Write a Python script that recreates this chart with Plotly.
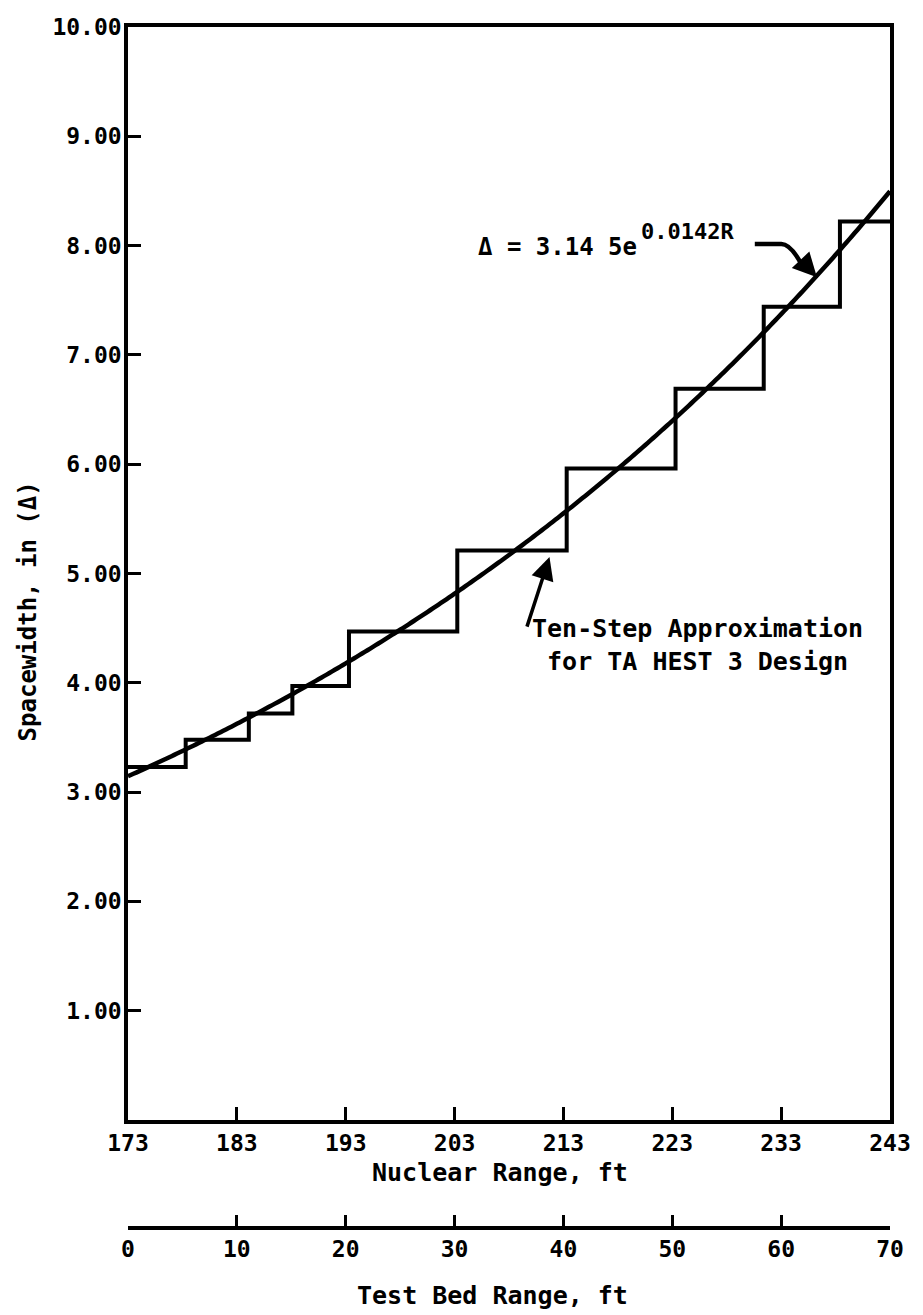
import numpy as np
import plotly.graph_objects as go

# Ten-step approximation: nuclear-range step edges (ft) and spacewidth per step (in)
step_edges = [173.0, 178.3, 184.1, 188.1, 193.3, 203.25, 213.3, 223.3, 231.4, 238.4, 243.0]
step_widths = [3.23, 3.48, 3.72, 3.97, 4.47, 5.21, 5.96, 6.69, 7.44, 8.22]

# Exponential spacing law, R = test bed range (ft)
fit_a = 3.145
fit_k = 0.0142
test_bed_r = np.linspace(0, 70, 281)
fit_delta = fit_a * np.exp(fit_k * test_bed_r)

nuclear_ticks = [173, 183, 193, 203, 213, 223, 233, 243]
test_bed_ticks = [0, 10, 20, 30, 40, 50, 60, 70]
y_ticks = [1, 2, 3, 4, 5, 6, 7, 8, 9, 10]
y_tick_text = ["1.00", "2.00", "3.00", "4.00", "5.00", "6.00", "7.00", "8.00", "9.00", "10.00"]

FONT = "DejaVu Sans Mono"
INK = "#000000"
tick_font = dict(family=FONT, size=23, color=INK, weight="bold")
label_font = dict(family=FONT, size=25, color=INK, weight="bold")

fig = go.Figure()

fig.add_trace(go.Scatter(
    x=step_edges,
    y=step_widths + [step_widths[-1]],
    mode="lines",
    line=dict(color=INK, width=4, shape="hv"),
    xaxis="x", yaxis="y",
    showlegend=False, hoverinfo="skip",
))

fig.add_trace(go.Scatter(
    x=test_bed_r,
    y=fit_delta,
    mode="lines",
    line=dict(color=INK, width=4.5, simplify=False),
    xaxis="x2", yaxis="y",
    showlegend=False, hoverinfo="skip",
))

axis_common = dict(
    showline=True, linewidth=3.5, linecolor=INK,
    ticks="inside", tickwidth=3, tickcolor=INK,
    showgrid=False, zeroline=False, tickfont=tick_font,
)

fig.update_layout(
    width=923, height=1315,
    margin=dict(l=128, r=23, t=27, b=87),
    paper_bgcolor="white", plot_bgcolor="white",
    xaxis=dict(
        range=[173, 243], tickvals=nuclear_ticks, ticklen=13,
        mirror=True, anchor="y", **axis_common,
    ),
    xaxis2=dict(
        range=[0, 70], tickvals=test_bed_ticks, ticklen=11,
        overlaying="x", anchor="free", position=0, side="bottom",
        **axis_common,
    ),
    yaxis=dict(
        range=[0, 10], domain=[0.0899, 1], tickvals=y_ticks, ticktext=y_tick_text,
        ticklen=13, mirror=True, ticklabelstandoff=-2, **axis_common,
    ),
)

annotations = [
    dict(text="Nuclear Range, ft", xref="paper", yref="paper", x=0.488, y=0.0458,
         showarrow=False, font=label_font, xanchor="center", yanchor="middle"),
    dict(text="Test Bed Range, ft", xref="paper", yref="paper", x=0.478, y=-0.0558,
         showarrow=False, font=label_font, xanchor="center", yanchor="middle"),
    dict(text="Spacewidth, in (Δ)", xref="paper", yref="paper", x=-0.1308, y=0.5137,
         textangle=-90, showarrow=False,
         font=dict(family=FONT, size=24, color=INK, weight="bold"),
         xanchor="center", yanchor="middle"),
    # step label and its pointer
    dict(text="Ten-Step Approximation<br>for TA HEST 3 Design", xref="x", yref="y",
         x=225.3, y=4.35, showarrow=False, font=label_font, align="center",
         xanchor="center", yanchor="middle"),
    dict(text="", xref="x", yref="y", x=211.72, y=5.15, ax=-23, ay=71,
         showarrow=True, arrowhead=2, arrowsize=1.3, arrowwidth=3.5, arrowcolor=INK),
    # fitted law label and its pointer
    dict(text="Δ = 3.14 5e", xref="x", yref="y", x=219.9, y=7.99,
         showarrow=False, font=dict(family=FONT, size=24, color=INK, weight="bold"),
         xanchor="right", yanchor="middle"),
    dict(text="0.0142R", xref="x", yref="y", x=219.95, y=8.125,
         showarrow=False, font=dict(family=FONT, size=22, color=INK, weight="bold"),
         xanchor="left", yanchor="middle"),
    dict(text="", xref="x", yref="y", x=236.29, y=7.71, ax=-14, ay=-15,
         showarrow=True, arrowhead=2, arrowsize=1.2, arrowwidth=4, arrowcolor=INK),
]
fig.update_layout(annotations=annotations)

fig.add_shape(
    type="path", xref="x", yref="y",
    path="M 230.58,8.015 L 233.02,8.015 Q 233.93,8.015 235.02,7.80",
    line=dict(color=INK, width=4.5),
)

fig.write_html("out.html")
